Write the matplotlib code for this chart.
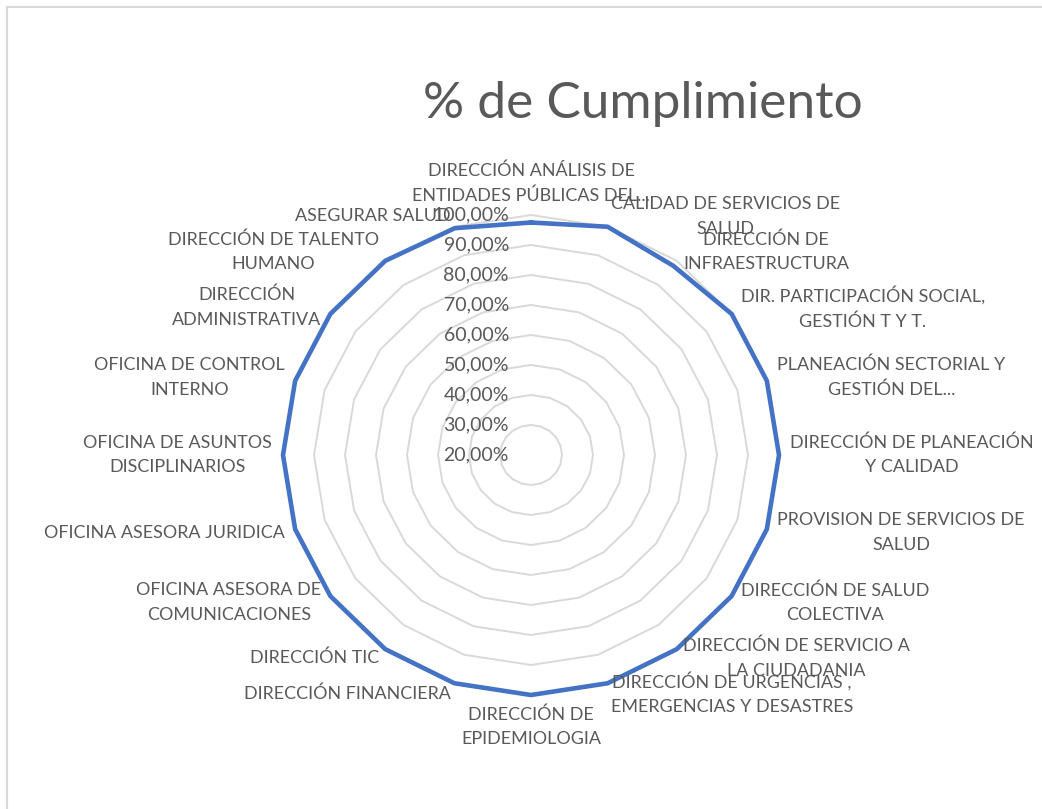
import numpy as np
import matplotlib
matplotlib.use("Agg")
import matplotlib.pyplot as plt
from matplotlib.lines import Line2D

plt.rcParams['font.family'] = ['Lato', 'DejaVu Sans']

categories = [
    "DIRECCIÓN ANÁLISIS DE\nENTIDADES PÚBLICAS DEL...",
    "CALIDAD DE SERVICIOS DE\nSALUD",
    "DIRECCIÓN DE\nINFRAESTRUCTURA",
    "DIR. PARTICIPACIÓN SOCIAL,\nGESTIÓN T Y T.",
    "PLANEACIÓN SECTORIAL Y\nGESTIÓN DEL...",
    "DIRECCIÓN DE PLANEACIÓN\nY CALIDAD",
    "PROVISION DE SERVICIOS DE\nSALUD",
    "DIRECCIÓN DE SALUD\nCOLECTIVA",
    "DIRECCIÓN DE SERVICIO A\nLA CIUDADANIA",
    "DIRECCIÓN DE URGENCIAS ,\nEMERGENCIAS Y DESASTRES",
    "DIRECCIÓN DE\nEPIDEMIOLOGIA",
    "DIRECCIÓN FINANCIERA",
    "DIRECCIÓN TIC",
    "OFICINA ASESORA DE\nCOMUNICACIONES",
    "OFICINA ASESORA JURIDICA",
    "OFICINA DE ASUNTOS\nDISCIPLINARIOS",
    "OFICINA DE CONTROL\nINTERNO",
    "DIRECCIÓN\nADMINISTRATIVA",
    "DIRECCIÓN DE TALENTO\nHUMANO",
    "ASEGURAR SALUD",
]
cumplimiento = [0.975, 1.0, 0.98, 1.0, 1.0, 1.0, 1.0, 1.0, 1.0, 1.0,
                1.0, 1.0, 1.0, 1.0, 1.0, 1.0, 1.0, 1.0, 1.0, 0.995]
ring_levels = [0.2, 0.3, 0.4, 0.5, 0.6, 0.7, 0.8, 0.9, 1.0]
title = "% de Cumplimiento"

TXT = '#595959'
GRID = '#d9d9d9'
BLUE = '#4472C4'

W, H = 1042, 809
fig = plt.figure(figsize=(W / 100, H / 100), dpi=100)

# plot area: centre (531, 455) px, radii 248 x 240 px
cx, cy, rx, ry = 531, 455, 248, 240
ax = fig.add_axes([(cx - rx) / W, 1 - (cy + ry) / H, 2 * rx / W, 2 * ry / H],
                  projection='polar')
ax.set_aspect('auto')
ax.set_theta_zero_location('N')
ax.set_theta_direction(-1)
ax.set_rlim(ring_levels[0], ring_levels[-1])
ax.set_xticks([])
ax.set_yticks([])
ax.grid(False)
ax.spines['polar'].set_visible(False)
ax.patch.set_visible(False)

n = len(categories)
theta = np.arange(n) * 2 * np.pi / n
theta_c = np.append(theta, theta[0])

# polygon gridlines
for r in ring_levels[1:]:
    ax.plot(theta_c, [r] * (n + 1), color=GRID, lw=1.4, clip_on=False, zorder=1)

vals = np.append(cumplimiento, cumplimiento[0])
ax.plot(theta_c, vals, color=BLUE, lw=3.3, solid_joinstyle='round',
        clip_on=False, zorder=3)

# radial axis labels
for r in ring_levels:
    ax.annotate(f"{r * 100:.2f}%".replace('.', ','), xy=(0, r),
                xytext=(-22, 0), textcoords='offset pixels',
                ha='right', va='center', fontsize=14, color=TXT,
                annotation_clip=False, zorder=4)

# category labels
pad = 11
for t, lab in zip(theta, categories):
    phi = np.pi / 2 - t
    dx, dy = pad * np.cos(phi), pad * np.sin(phi)
    c = np.cos(phi)
    ha = 'left' if c > 0.01 else ('right' if c < -0.01 else 'center')
    va = 'center'
    if abs(c) <= 0.01:
        va = 'bottom' if np.sin(phi) > 0 else 'top'
    ax.annotate(lab, xy=(t, ring_levels[-1]), xytext=(dx, dy),
                textcoords='offset pixels', ha=ha, va=va, multialignment='center',
                fontsize=12.9, color=TXT, linespacing=1.65,
                annotation_clip=False, zorder=4)

fig.text(643 / W, 1 - 104 / H, title, ha='center', va='center',
         fontsize=37, color=TXT)

# chart border (top and left edge visible)
fig.add_artist(Line2D([7 / W, 1], [1 - 7 / H, 1 - 7 / H], color=GRID, lw=1.5))
fig.add_artist(Line2D([7 / W, 7 / W], [0, 1 - 7 / H], color=GRID, lw=1.5))

fig.savefig("out.png", dpi=100)
